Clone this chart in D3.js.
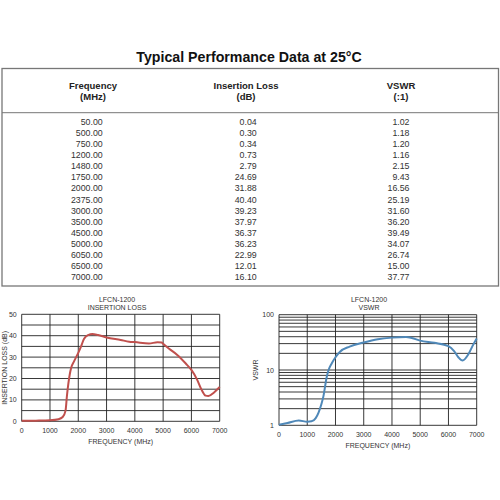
<!DOCTYPE html>
<html><head><meta charset="utf-8">
<script src="https://cdn.jsdelivr.net/npm/d3@7"></script>
<style>body{margin:0;background:#fff}svg{display:block;font-family:"Liberation Sans",Arial,sans-serif}</style>
</head><body><svg id="c" width="500" height="500"></svg>
<script>
// Table data
const freqs = ["50.00","500.00","750.00","1200.00","1480.00","1750.00","2000.00","2375.00","3000.00","3500.00","4500.00","5000.00","6050.00","6500.00","7000.00"];
const insLoss = ["0.04","0.30","0.34","0.73","2.79","24.69","31.88","40.40","39.23","37.97","36.37","36.23","22.99","12.01","16.10"];
const vswr = ["1.02","1.18","1.20","1.16","2.15","9.43","16.56","25.19","31.60","36.20","39.49","34.07","26.74","15.00","37.77"];
// Curve data
const ilFreq = [0,500,1000,1300,1450,1550,1600,1700,1750,1850,2000,2100,2200,2350,2500,2700,3000,3500,3800,4000,4500,4800,4950,5000,5200,5500,5800,6000,6200,6350,6500,6600,6800,7000];
const ilVal  = [0.2,0.3,0.5,1,2,5,12,22,25,28,32,35,38.5,40.3,40.8,40.3,39.2,38,37.2,37,36.4,36.9,36.8,36.2,34,31,27,24,19.5,15,12,11.8,13.5,16];
const vsFreq = [0,300,700,1000,1150,1300,1400,1500,1570,1690,1750,1870,2000,2160,2500,3000,3500,4000,4500,4700,5000,5500,6000,6200,6350,6500,6700,6850,7000];
const vsVal  = [1.02,1.1,1.22,1.16,1.18,1.35,1.7,2.4,3.3,7.5,9.8,13.2,17,21.4,26.5,31.5,36,38.5,39.5,38,34,31,27,22,17,14.8,19,27,37];
const xTicks = [0,1000,2000,3000,4000,5000,6000,7000];
const ilTicks = [0,10,20,30,40,50];
const vsTicks = [1,10,100];

const svg = d3.select("#c");
svg.append("rect").attr("width",500).attr("height",500).attr("fill","#fff");

// Title
svg.append("text").attr("x",249).attr("y",62).attr("text-anchor","middle")
  .attr("font-size",14.2).attr("font-weight","bold").attr("fill","#111").text("Typical Performance Data at 25°C");

// Table box
svg.append("rect").attr("x",2).attr("y",68.5).attr("width",496.5).attr("height",217.5)
  .attr("fill","none").attr("stroke","#777").attr("stroke-width",1.3);
svg.append("line").attr("x1",2).attr("x2",498.5).attr("y1",112.7).attr("y2",112.7).attr("stroke","#777").attr("stroke-width",1);

const headers = [["Frequency","(MHz)",93],["Insertion Loss","(dB)",246],["VSWR","(:1)",401]];
headers.forEach(h=>{
  const t = svg.append("text").attr("text-anchor","middle").attr("font-size",9.5).attr("font-weight","bold").attr("fill","#222");
  t.append("tspan").attr("x",h[2]).attr("y",88.5).text(h[0]);
  t.append("tspan").attr("x",h[2]).attr("y",100).text(h[1]);
});
const rowY = d3.scaleLinear().domain([0,freqs.length-1]).range([125,280]);
const cols = [[freqs,102.7],[insLoss,256.7],[vswr,409.5]];
cols.forEach(c=>{
  svg.append("g").selectAll("text").data(c[0]).join("text")
    .attr("x",c[1]).attr("y",(d,i)=>rowY(i)).attr("text-anchor","end")
    .attr("font-size",8.8).attr("fill","#333").text(d=>d);
});

function chart(opt){
  const g = svg.append("g");
  const x = d3.scaleLinear().domain([0,7000]).range([opt.x0,opt.x1]);
  const y = opt.y;
  // grid
  g.append("g").selectAll("line").data(opt.hgrid).join("line")
    .attr("x1",opt.x0).attr("x2",opt.x1).attr("y1",d=>y(d)).attr("y2",d=>y(d))
    .attr("stroke","#222").attr("stroke-width",0.9);
  g.append("g").selectAll("line").data(xTicks).join("line")
    .attr("x1",d=>x(d)).attr("x2",d=>x(d)).attr("y1",opt.yTop).attr("y2",opt.yBot)
    .attr("stroke","#222").attr("stroke-width",0.9);
  // ticks labels
  g.append("g").selectAll("text").data(xTicks).join("text")
    .attr("x",d=>x(d)).attr("y",opt.yBot+opt.xlOff).attr("text-anchor","middle")
    .attr("font-size",7).attr("fill","#333").text(d=>d);
  g.append("g").selectAll("text").data(opt.yTicks).join("text")
    .attr("x",opt.x0-5).attr("y",d=>y(d)+2.5).attr("text-anchor","end")
    .attr("font-size",7).attr("fill","#333").text(d=>d);
  // curve
  const line = d3.line().x(d=>x(d[0])).y(d=>y(d[1])).curve(d3.curveMonotoneX);
  g.append("path").datum(opt.fx.map((f,i)=>[f,opt.vals[i]])).attr("d",line)
    .attr("fill","none").attr("stroke",opt.color).attr("stroke-width",2).attr("stroke-linejoin","round");
  // titles
  const t = g.append("text").attr("text-anchor","middle").attr("font-size",7).attr("fill","#333");
  t.append("tspan").attr("x",opt.tx).attr("y",302).text("LFCN-1200");
  t.append("tspan").attr("x",opt.tx).attr("y",309.5).text(opt.title);
  g.append("text").attr("x",(opt.x0+opt.x1)/2).attr("y",opt.yBot+opt.xlOff+11).attr("text-anchor","middle")
    .attr("font-size",7).attr("fill","#333").text("FREQUENCY (MHz)");
  g.append("text").attr("transform",`translate(${opt.ylx},${(opt.yTop+opt.yBot)/2}) rotate(-90)`)
    .attr("text-anchor","middle").attr("font-size",7).attr("fill","#333").text(opt.ylabel);
}

const yIL = d3.scaleLinear().domain([0,50]).range([421.3,314.3]);
chart({x0:21.7,x1:219.7,y:yIL,yTop:314.3,yBot:421.3,hgrid:d3.range(0,51,5),yTicks:ilTicks,
  fx:ilFreq,vals:ilVal,color:"#c0504d",tx:117,title:"INSERTION LOSS",ylabel:"INSERTION LOSS (dB)",ylx:7,xlOff:12});

const yVS = d3.scaleLog().domain([1,100]).range([425.3,314.7]);
const vgrid = [];
[1,10].forEach(b=>{for(let k=1;k<10;k++) vgrid.push(b*k);}); vgrid.push(100);
chart({x0:279,x1:476.7,y:yVS,yTop:314.7,yBot:425.3,hgrid:vgrid,yTicks:vsTicks,
  fx:vsFreq,vals:vsVal,color:"#4f88b8",tx:369,title:"VSWR",ylabel:"VSWR",ylx:258,xlOff:11.5});
</script></body></html>
